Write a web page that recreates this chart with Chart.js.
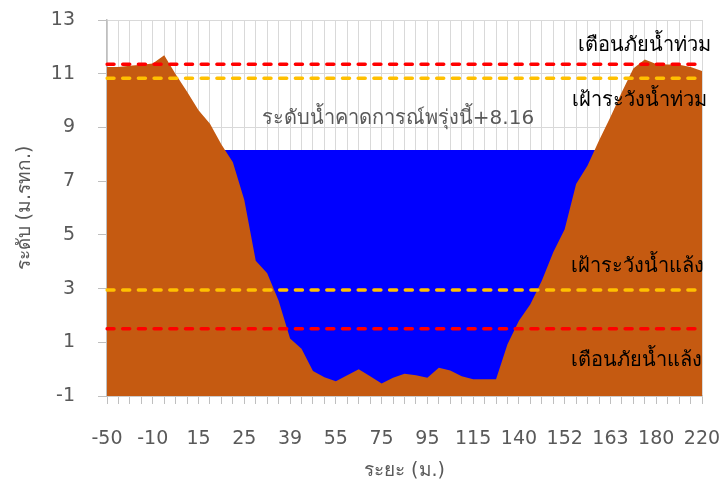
<!DOCTYPE html>
<html>
<head>
<meta charset="UTF-8">
<title>river cross-section</title>
<script src="https://cdn.jsdelivr.net/npm/chart.js"></script>
<style>
html, body { margin: 0; padding: 0; background: #fff; }
#box { width: 722px; height: 486px; }
</style>
</head>
<body>
<div id="box"><canvas id="myChart"></canvas></div>
<script>
// tick labels on the distance axis (every 4th category)
const tickLabels = ['-50', '-10', '15', '25', '39', '55', '75', '95', '115', '140', '152', '163', '180', '220'];

// ground level along the section (m. MSL), one value per category
const ground = [
  11.25, 11.25, 11.30, 11.33, 11.38, 11.69, 10.98, 10.33, 9.64, 9.14,
  8.36, 7.70, 6.30, 4.04, 3.57, 2.55, 1.14, 0.76, -0.07, -0.30,
  -0.45, -0.23, 0.00, -0.26, -0.53, -0.32, -0.17, -0.23, -0.32, 0.05,
  -0.05, -0.26, -0.38, -0.38, -0.38, 0.93, 1.80, 2.42, 3.29, 4.35,
  5.21, 6.89, 7.58, 8.51, 9.39, 10.32, 11.19, 11.53, 11.36, 11.34,
  11.33, 11.25, 11.10
];

const waterTomorrow = 8.16;
const floodWarning = 11.35;
const floodWatch = 10.83;
const droughtWatch = 2.95;
const droughtWarning = 1.5;

const categories = ground.map((v, i) => i % 4 === 0 ? tickLabels[i / 4] : '');
const flat = v => ground.map(() => v);

const fontFam = 'Tahoma, "DejaVu Sans", sans-serif';
const grey = '#595959';

const notes = [
  { text: 'เตือนภัยน้ำท่วม', x: 644, y: 51, color: '#000' },
  { text: 'เฝ้าระวังน้ำท่วม', x: 639, y: 106, color: '#000' },
  { text: 'ระดับน้ำคาดการณ์พรุ่งนี้+' + waterTomorrow.toFixed(2), x: 398, y: 124, color: grey },
  { text: 'เฝ้าระวังน้ำแล้ง', x: 637, y: 272, color: '#000' },
  { text: 'เตือนภัยน้ำแล้ง', x: 636, y: 366, color: '#000' }
];

const textPlugin = {
  id: 'notes',
  afterDatasetsDraw(chart) {
    const c = chart.ctx;
    c.save();
    c.font = '20px ' + fontFam;
    c.textAlign = 'center';
    c.textBaseline = 'alphabetic';
    notes.forEach(n => {
      c.fillStyle = n.color;
      c.fillText(n.text, n.x, n.y);
    });
    c.restore();
  }
};

function dashed(label, val, color) {
  return {
    label: label,
    data: flat(val),
    borderColor: color,
    borderWidth: 3.5,
    borderDash: [7, 8.7],
    borderCapStyle: 'round',
    pointRadius: 0,
    fill: false,
    tension: 0
  };
}

const ctx = document.getElementById('myChart');
new Chart(ctx, {
  type: 'line',
  data: {
    labels: categories,
    datasets: [
      dashed('เตือนภัยน้ำท่วม', floodWarning, '#ff0000'),
      dashed('เฝ้าระวังน้ำท่วม', floodWatch, '#ffc000'),
      dashed('เฝ้าระวังน้ำแล้ง', droughtWatch, '#ffc000'),
      dashed('เตือนภัยน้ำแล้ง', droughtWarning, '#ff0000'),
      {
        label: 'ระดับดิน',
        data: ground,
        borderWidth: 0,
        borderColor: '#c55a11',
        backgroundColor: '#c55a11',
        pointRadius: 0,
        fill: 'start',
        tension: 0
      },
      {
        label: 'ระดับน้ำ',
        data: flat(waterTomorrow),
        borderWidth: 0,
        borderColor: '#0000ff',
        backgroundColor: '#0000ff',
        pointRadius: 0,
        fill: 'start',
        tension: 0
      }
    ]
  },
  options: {
    responsive: true,
    maintainAspectRatio: false,
    animation: false,
    layout: { padding: { left: 0, right: 20, top: 20, bottom: 0 } },
    plugins: {
      legend: { display: false },
      tooltip: { enabled: false }
    },
    scales: {
      x: {
        offset: false,
        grid: { color: '#d9d9d9', tickColor: '#bfbfbf', tickLength: 8, lineWidth: 1 },
        border: { color: '#bfbfbf', width: 1.5 },
        ticks: {
          autoSkip: false,
          maxRotation: 0,
          color: grey,
          padding: 24,
          font: { family: fontFam, size: 19 }
        },
        title: {
          display: true,
          text: 'ระยะ (ม.)',
          color: grey,
          font: { family: fontFam, size: 19 },
          padding: { top: 4, bottom: 4 }
        },
        afterFit(scale) {
          scale.height = 90;
          scale.paddingLeft = 0;
          scale.paddingRight = 0;
        }
      },
      y: {
        min: -1,
        max: 13,
        grid: { color: '#d9d9d9', tickColor: '#bfbfbf', tickLength: 9 },
        border: { color: '#bfbfbf', width: 1.5 },
        ticks: {
          stepSize: 2,
          color: grey,
          padding: 23,
          font: { family: fontFam, size: 19 }
        },
        title: {
          display: true,
          text: 'ระดับ (ม.รทก.)',
          color: grey,
          font: { family: fontFam, size: 19 },
          padding: { top: 14, bottom: 14 }
        },
        afterFit(scale) {
          scale.width = 107;
          scale.paddingTop = 0;
          scale.paddingBottom = 0;
        }
      }
    }
  },
  plugins: [textPlugin]
});
</script>
</body>
</html>
